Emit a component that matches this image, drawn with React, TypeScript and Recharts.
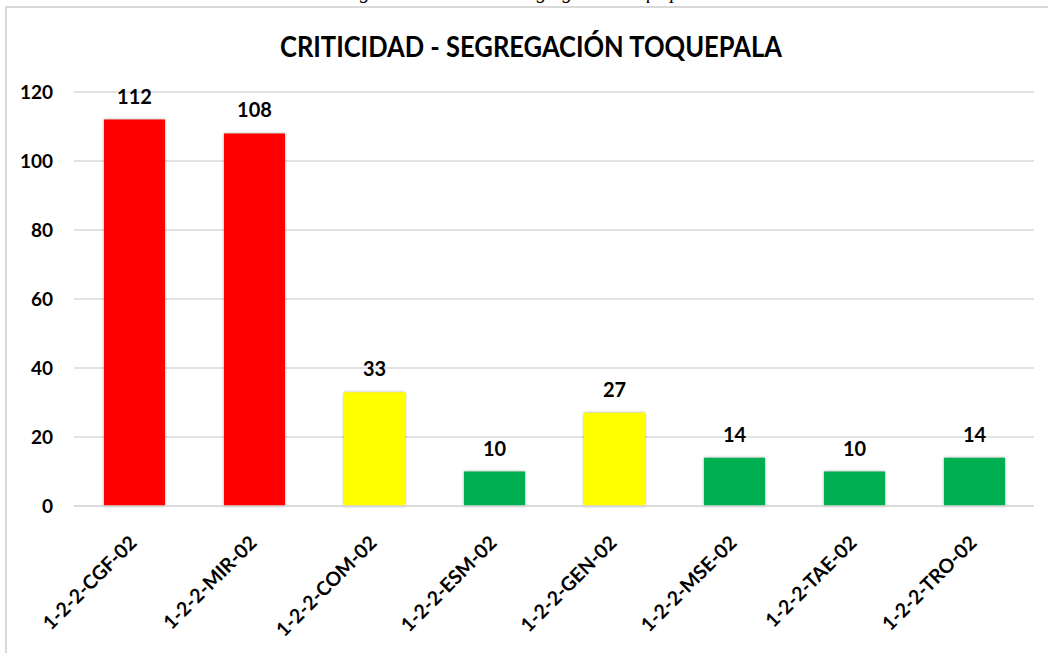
import { BarChart, Bar, XAxis, YAxis, CartesianGrid, Cell, LabelList } from "recharts";

const categories = [
  "1-2-2-CGF-02",
  "1-2-2-MIR-02",
  "1-2-2-COM-02",
  "1-2-2-ESM-02",
  "1-2-2-GEN-02",
  "1-2-2-MSE-02",
  "1-2-2-TAE-02",
  "1-2-2-TRO-02",
];
const values = [112, 108, 33, 10, 27, 14, 10, 14];
const yTicks = [0, 20, 40, 60, 80, 100, 120];

const chartTitle = "CRITICIDAD - SEGREGACIÓN TOQUEPALA";
const caption = "Figura 12. Criticidad segregación Toquepala";

const FONT = "Lato, 'Open Sans', sans-serif";

// criticidad: alta en rojo, media en amarillo, baja en verde
const levelColor = (v: number) => (v >= 50 ? "#FF0000" : v >= 20 ? "#FFFF00" : "#00B050");

const data = categories.map((name, i) => ({ name, value: values[i] }));

const AngledTick = ({ x, y, payload }: any) => {
  const px = x + 4;
  const py = y + 30;
  return (
    <text
      x={px}
      y={py}
      transform={`rotate(-45, ${px}, ${py})`}
      textAnchor="end"
      fontFamily={FONT}
      fontWeight={700}
      fontSize={19.5}
      fill="#000"
    >
      {payload.value}
    </text>
  );
};

export default function App() {
  return (
    <div style={{ position: "absolute", left: 0, top: 0, width: 1048, height: 653, overflow: "hidden", background: "#fff" }}>
      <div style={{ position: "absolute", left: 5, top: 6, width: 1100, height: 700, border: "2px solid #d9d9d9", boxSizing: "border-box" }} />
      <svg width={1048} height={80} style={{ position: "absolute", left: 0, top: 0 }}>
        <text x={524} y={-2} textAnchor="middle" fontFamily="'Liberation Serif', serif" fontStyle="italic" fontSize={20} fill="#000">
          {caption}
        </text>
        <text x={531} y={57} textAnchor="middle" textLength={502} lengthAdjust="spacingAndGlyphs" fontFamily={FONT} fontWeight={700} fontSize={29} fill="#000">
          {chartTitle}
        </text>
      </svg>
      <div style={{ position: "absolute", left: 0, top: 0 }}>
        <BarChart width={1048} height={653} data={data} margin={{ top: 92, right: 14, left: 14, bottom: 17 }} barSize={61}>
          <CartesianGrid vertical={false} stroke="#d9d9d9" strokeWidth={1.5} />
          <XAxis
            dataKey="name"
            height={130}
            interval={0}
            tickLine={false}
            axisLine={{ stroke: "#d9d9d9", strokeWidth: 1.5 }}
            tick={<AngledTick />}
          />
          <YAxis
            width={60}
            domain={[0, 120]}
            ticks={yTicks}
            axisLine={false}
            tickLine={false}
            tickMargin={15}
            tick={{ fontFamily: FONT, fontWeight: 700, fontSize: 19, fill: "#000" }}
          />
          <Bar dataKey="value" isAnimationActive={false}>
            {data.map((d) => (
              <Cell key={d.name} fill={levelColor(d.value)} style={{ filter: "drop-shadow(0 0 1.5px rgba(0,0,0,0.35))" }} />
            ))}
            <LabelList dataKey="value" position="top" offset={16} fontFamily={FONT} fontWeight={700} fontSize={20} fill="#000" />
          </Bar>
        </BarChart>
      </div>
    </div>
  );
}
